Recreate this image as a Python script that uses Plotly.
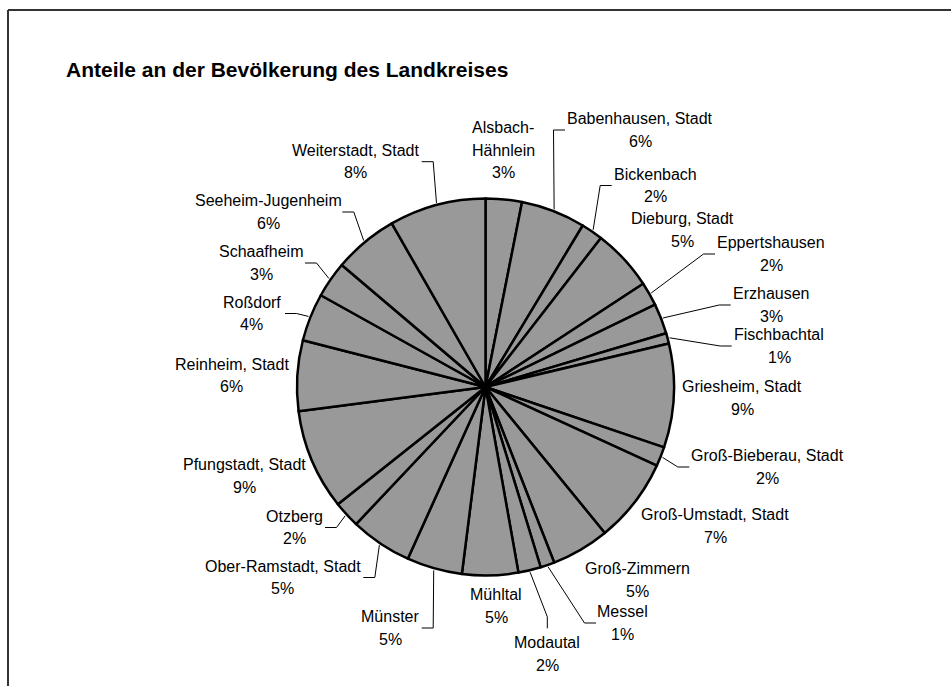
import math
import plotly.graph_objects as go

# ---------------- data ----------------
municipalities = [
    "Alsbach-Hähnlein", "Babenhausen, Stadt", "Bickenbach", "Dieburg, Stadt",
    "Eppertshausen", "Erzhausen", "Fischbachtal", "Griesheim, Stadt",
    "Groß-Bieberau, Stadt", "Groß-Umstadt, Stadt", "Groß-Zimmern", "Messel",
    "Modautal", "Mühltal", "Münster", "Ober-Ramstadt, Stadt", "Otzberg",
    "Pfungstadt, Stadt", "Reinheim, Stadt", "Roßdorf", "Schaafheim",
    "Seeheim-Jugenheim", "Weiterstadt, Stadt",
]
population = [
    9000, 16000, 5400, 15300,
    5900, 7500, 2600, 25800,
    4800, 21000, 14400, 3500,
    5600, 13900, 13800, 15300, 6600,
    25000, 17500, 11900, 9000,
    16000, 24000,
]
label_lines = {"Alsbach-Hähnlein": ["Alsbach-", "Hähnlein"]}
title_text = "Anteile an der Bevölkerung des Landkreises"

# ---------------- layout constants ----------------
W, H = 951, 686
CX, CY, R = 485.5, 387.0, 188.5        # pie centre / radius in pixels
FONT = "Liberation Sans, Arial, sans-serif"
LINE_H = 22.3

# label block centres (px) and leader-line attachment (side, end coordinate)
label_layout = {
    "Alsbach-Hähnlein": (503, 150, None, None),
    "Babenhausen, Stadt": (640, 130, "left", 565),
    "Bickenbach": (655, 185.5, "left", 611.7),
    "Dieburg, Stadt": (682, 230, None, None),
    "Eppertshausen": (771, 254, "left", 715),
    "Erzhausen": (771.7, 305, "left", 730.7),
    "Fischbachtal": (779, 346, "left", 731.7),
    "Griesheim, Stadt": (742.3, 398, None, None),
    "Groß-Bieberau, Stadt": (767.3, 467, "left", 689.3),
    "Groß-Umstadt, Stadt": (715, 526, None, None),
    "Groß-Zimmern": (637.3, 580, None, None),
    "Messel": (622.7, 623, "left", 596),
    "Modautal": (547.3, 654, "top", 628.3),
    "Mühltal": (496, 606, None, None),
    "Münster": (390, 628, "right", 421.7),
    "Ober-Ramstadt, Stadt": (282.7, 577.5, "right", 363.3),
    "Otzberg": (294.3, 527.5, "right", 325),
    "Pfungstadt, Stadt": (244.3, 476, None, None),
    "Reinheim, Stadt": (231.7, 375.5, None, None),
    "Roßdorf": (251.7, 313.5, "right", 285),
    "Schaafheim": (261, 263, "right", 305),
    "Seeheim-Jugenheim": (268.3, 212, "right", 342.3),
    "Weiterstadt, Stadt": (355, 161.7, "right", 421.7),
}
KINK = 11.5


def px(x):
    return x / W


def py(y):
    return 1 - y / H


fig = go.Figure()
fig.add_trace(go.Pie(
    labels=municipalities,
    values=population,
    sort=False,
    direction="clockwise",
    rotation=0,
    textinfo="none",
    hoverinfo="label+percent",
    marker=dict(colors=["#999999"] * len(population),
                line=dict(color="#000000", width=2.5)),
    domain=dict(x=[px(CX - R), px(CX + R)], y=[py(CY + R), py(CY - R)]),
    showlegend=False,
))

total = sum(population)
annotations = []
shapes = []
cum = 0.0
for name, val in zip(municipalities, population):
    frac = val / total
    mid = (cum + frac / 2) * 2 * math.pi
    cum += frac
    pct = round(frac * 100)
    lx, ly, side, end = label_layout[name]
    lines = label_lines.get(name, [name]) + [f"{pct}%"]
    n = len(lines)
    for i, txt in enumerate(lines):
        yy = ly + (i - (n - 1) / 2) * LINE_H
        annotations.append(dict(
            x=px(lx), y=py(yy), xref="paper", yref="paper",
            text=txt, showarrow=False, xanchor="center", yanchor="middle",
            font=dict(family=FONT, size=16, color="#000000"),
        ))
    if side is not None:
        sx = CX + (R + 2) * math.sin(mid)
        sy = CY - (R + 2) * math.cos(mid)
        if side == "left":
            kx, ky, ex, ey = end - KINK, ly, end, ly
        elif side == "right":
            kx, ky, ex, ey = end + KINK, ly, end, ly
        else:  # top
            kx, ky, ex, ey = lx, end - KINK, lx, end
        shapes.append(dict(
            type="path", xref="paper", yref="paper",
            path=f"M {px(sx)} {py(sy)} L {px(kx)} {py(ky)} L {px(ex)} {py(ey)}",
            line=dict(color="#000000", width=1),
        ))

# chart-area frame (left and top edges visible)
shapes.append(dict(type="line", xref="paper", yref="paper",
                   x0=px(8), y0=py(10), x1=1.02, y1=py(10),
                   line=dict(color="#333333", width=2)))
shapes.append(dict(type="line", xref="paper", yref="paper",
                   x0=px(8), y0=py(10), x1=px(8), y1=-0.02,
                   line=dict(color="#333333", width=2)))

fig.update_layout(
    width=W, height=H,
    margin=dict(l=0, r=0, t=0, b=0),
    paper_bgcolor="#ffffff",
    plot_bgcolor="#ffffff",
    title=dict(text=title_text, x=px(66), y=py(70), xanchor="left", yanchor="middle",
               font=dict(family=FONT, size=21, color="#000000", weight="bold")),
    annotations=annotations,
    shapes=shapes,
)

fig.write_html("out.html", config={"displayModeBar": False},
               post_script="document.body.style.margin='0';")
